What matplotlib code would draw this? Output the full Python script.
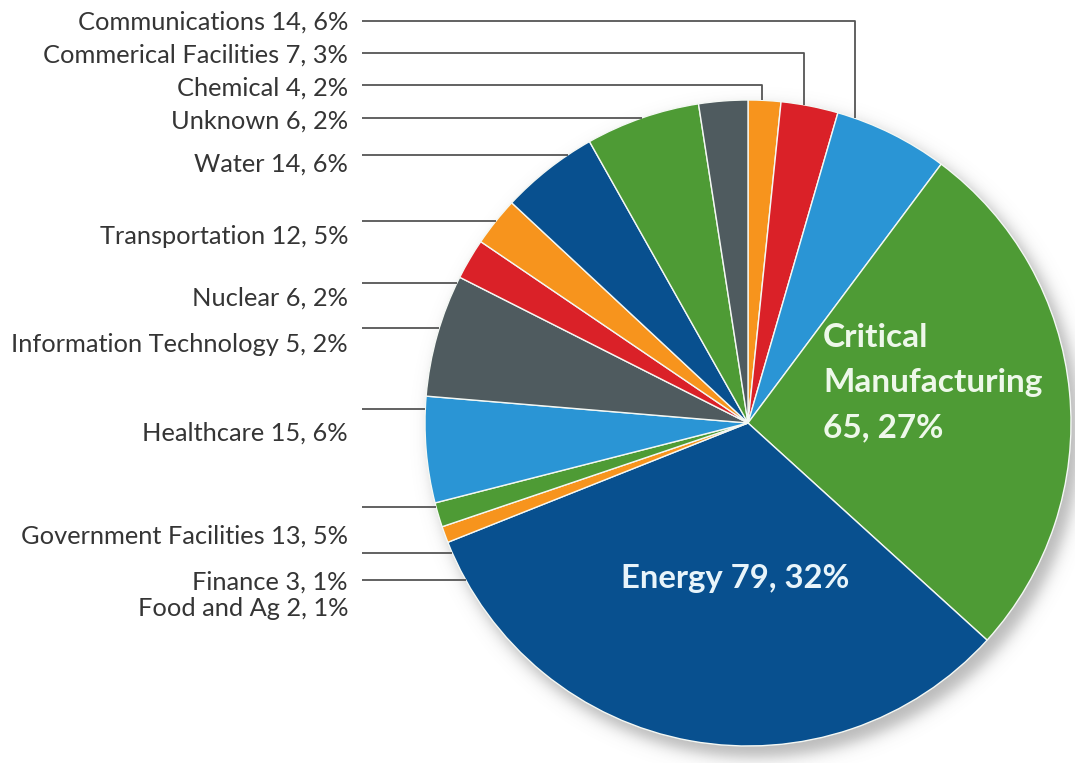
import numpy as np
import matplotlib
matplotlib.use("Agg")
import matplotlib.pyplot as plt

# ---------------- data (clockwise from 12 o'clock) ----------------
sectors = ["Chemical", "Commerical Facilities", "Communications",
           "Critical Manufacturing", "Energy", "Food and Ag", "Finance",
           "Government Facilities", "Healthcare", "Information Technology",
           "Nuclear", "Transportation", "Water", "Unknown"]
counts = [4, 7, 14, 65, 79, 2, 3, 13, 15, 5, 6, 12, 14, 6]
colors = ["#F7941D", "#DA2128", "#2A95D5", "#4E9B35", "#08508F",
          "#F7941D", "#4E9B35", "#2A95D5", "#4F5B5F", "#DA2128",
          "#F7941D", "#08508F", "#4E9B35", "#4F5B5F"]

total = sum(counts)
pcts = [int(np.floor(100.0 * c / total + 0.5)) for c in counts]

# ---------------- layout (pixels) ----------------
W, H = 1075, 763
CX, CY, R = 748, 423, 323
FONT = "Lato"

# text centre y, leader y, vertical-drop x (None = horizontal to pie edge)
outside = {
    "Communications":          (22, 21, 855),
    "Commerical Facilities":   (55, 53, 804),
    "Chemical":                (88, 85, 762),
    "Unknown":                 (121, 118, None),
    "Water":                   (164, 155, None),
    "Transportation":          (236, 221, None),
    "Nuclear":                 (298, 283, None),
    "Information Technology":  (345, 328, None),
    "Healthcare":              (433, 409, None),
    "Government Facilities":   (536, 553, None),
    "Finance":                 (582, 580, None),
    "Food and Ag":             (608, None, None),
}
extra_lines = [507]

fig = plt.figure(figsize=(W / 100, H / 100), dpi=100)
ax = fig.add_axes([0, 0, 1, 1])


def Y(py):
    return H - py


# soft drop shadow
yy, xx = np.mgrid[0:H, 0:W]
d = np.hypot(xx - (CX + 7), yy - (CY + 9))
alpha = 0.42 * 0.5 * (1 - np.tanh((d - (R + 2)) / 9.0))
shadow = np.zeros((H, W, 4))
shadow[..., :3] = 0.35
shadow[..., 3] = alpha
ax.imshow(shadow, extent=(0, W, 0, H), origin="upper", zorder=0,
          interpolation="bilinear")

wedges, _ = ax.pie(counts, colors=colors, startangle=90, counterclock=False,
                   center=(CX, Y(CY)), radius=R,
                   wedgeprops=dict(edgecolor="#F4F8F4", linewidth=1.0,
                                   zorder=2))
ax.set_xlim(0, W)
ax.set_ylim(0, H)
ax.set_aspect("equal")
ax.axis("off")

renderer = fig.canvas.get_renderer()


def fit_size(s, target_w, weight="normal", base=14):
    t = ax.text(0, 0, s, fontsize=base, family=FONT, fontweight=weight)
    w = t.get_window_extent(renderer).width
    t.remove()
    return base * target_w / w


lab_fs = fit_size("Communications 14, 6%", 271)
line_kw = dict(color="#555555", lw=1.3, solid_capstyle="butt", zorder=3)
TEXT_RIGHT, LINE_START = 348, 362


def edge_x(py):
    return CX - np.sqrt(R ** 2 - (py - CY) ** 2)


def edge_y(px):
    return CY - np.sqrt(R ** 2 - (px - CX) ** 2)


for name, c, p in zip(sectors, counts, pcts):
    if name not in outside:
        continue
    ty, ly, vx = outside[name]
    ax.text(TEXT_RIGHT, Y(ty + 7.5), f"{name} {c}, {p}%", ha="right",
            va="baseline", fontsize=lab_fs, family=FONT, color="#353535")
    if ly is None:
        continue
    if vx is None:
        ax.plot([LINE_START, edge_x(ly)], [Y(ly), Y(ly)], **line_kw)
    else:
        ax.plot([LINE_START, vx, vx], [Y(ly), Y(ly), Y(edge_y(vx))], **line_kw)

for ly in extra_lines:
    ax.plot([LINE_START, edge_x(ly)], [Y(ly), Y(ly)], **line_kw)

# labels inside the two big slices
i_cm = sectors.index("Critical Manufacturing")
i_en = sectors.index("Energy")
cm_fs = fit_size("Manufacturing", 222, weight="bold")
en_fs = fit_size(f"Energy {counts[i_en]}, {pcts[i_en]}%", 230, weight="bold")

cm_lines = ["Critical", "Manufacturing", f"{counts[i_cm]}, {pcts[i_cm]}%"]
for txt, by in zip(cm_lines, [347, 392, 437]):
    ax.text(823, Y(by), txt, ha="left", va="baseline", fontsize=cm_fs,
            family=FONT, fontweight="bold", color="#EEF8EA", zorder=4)

ax.text(735, Y(588), f"Energy {counts[i_en]}, {pcts[i_en]}%", ha="center",
        va="baseline", fontsize=en_fs, family=FONT, fontweight="bold",
        color="#E8F4FA", zorder=4)

fig.savefig("out.png", dpi=100)
